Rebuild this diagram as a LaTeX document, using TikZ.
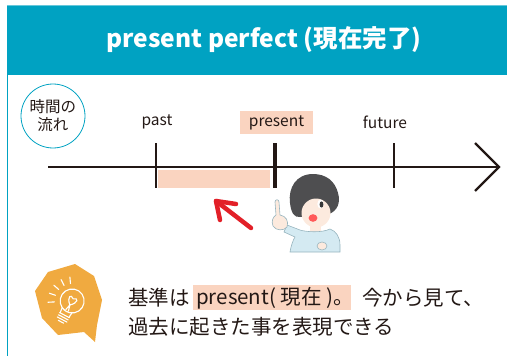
\documentclass[tikz,border=0pt]{standalone}
\usepackage{fontspec}
\setmainfont{Noto Sans CJK JP}
\definecolor{teal}{RGB}{0,162,194}
\definecolor{peach}{RGB}{250,212,192}
\definecolor{ink}{RGB}{35,24,21}
\definecolor{bulborange}{RGB}{240,170,64}
\definecolor{arrowred}{RGB}{226,32,40}
\definecolor{hair}{RGB}{78,78,80}
\definecolor{skin}{RGB}{252,234,222}
\definecolor{shirt}{RGB}{212,234,242}
\definecolor{outline}{RGB}{150,180,190}
\begin{document}
\begin{tikzpicture}[x=1pt,y=-1pt,
  label/.style={inner sep=0pt, text=ink, font=\fontsize{15.5}{18}\selectfont},
  body/.style={inner sep=0pt, text=ink, anchor=west, font=\fontsize{20.5}{24}\selectfont},
  axis/.style={draw=ink, line width=2.2pt},
  tick/.style={draw=ink, line width=2pt},
  bulbline/.style={draw=white, line width=1.1pt, line cap=round, line join=round}]
\useasboundingbox (0,0) rectangle (507,356);

% frame: header band and left rule
\fill[teal] (7,5) rectangle (507,75);
\draw[teal!60, line width=0.6pt] (7,5.3) -- (507,5.3);
\draw[teal, line width=1.2pt] (7.6,75) -- (7.6,356);
\node[inner sep=0pt, text=white, font=\fontsize{24.5}{28}\selectfont\bfseries] (title) at (264,40) {present perfect (現在完了)};

% "flow of time" badge
\node[circle, draw=teal, line width=0.8pt, minimum size=64pt, inner sep=0pt, align=center,
      text=ink, font=\fontsize{15.5}{18}\selectfont] (flow) at (53,116) {時間の\\流れ};

% time labels
\node[label] (past) at (157,122) {past};
\node[label, fill=peach, minimum width=73pt, minimum height=23pt] (present) at (276.5,122.5) {present};
\node[label] (future) at (385,122) {future};

% period bar from past up to present
\fill[peach] (158,170) rectangle (270,188);

% time axis with open arrow head
\coordinate (axStart) at (48,167);
\coordinate (axEnd) at (499,167);
\draw[axis] (axStart) -- (axEnd);
\draw[axis, line join=miter] (axEnd) ++(-24,-24) -- (axEnd) -- ++(-24,24);

% ticks
\coordinate (tPast) at (155.5,143);
\coordinate (tPresent) at (274.5,143);
\coordinate (tFuture) at (394,143);
\draw[tick] (tPast) -- ++(0,45);
\draw[tick, line width=4pt] (tPresent) -- ++(0,45);
\draw[tick] (tFuture) -- ++(0,45);

% red arrow pointing back to the past
\coordinate (redTail) at (251,228);
\coordinate (redTip) at (216,201);
\draw[arrowred, line width=4.5pt, line cap=round] (redTail) -- (redTip);
\draw[arrowred, line width=4.5pt, line cap=round, line join=round]
  (redTip) ++(20,3) -- (redTip) -- ++(4,19);

% girl pointing up
\fill[hair] (313,174) .. controls (296,174) and (288,188) .. (290,203)
  .. controls (291,212) and (294,218) .. (300,217) -- (329,214)
  .. controls (337,211) and (341,203) .. (338,193)
  .. controls (335,181) and (326,174) .. (313,174) -- cycle;
\fill[skin] (316,213) ellipse (14.5 and 14.5);
\fill[hair] (300,213) .. controls (300,202) and (306,193) .. (317,192)
  .. controls (324,192) and (330,194) .. (333,199) -- (334,186) -- (300,186) -- cycle;
\fill[white] (320.5,204) ellipse (3.2 and 4.4);
\fill[hair!70!black] (321.5,204.5) ellipse (1.9 and 3.1);
\fill[red!65!white] (313,218) ellipse (4.4 and 3.8);
\fill[skin] (310,226) rectangle (321,233);
\filldraw[fill=shirt, draw=outline, line width=0.6pt]
  (300,230) .. controls (306,232) and (322,233) .. (330,229)
  .. controls (336,231) and (340,237) .. (340,245) -- (340,252) -- (290,252)
  .. controls (291,246) and (293,240) .. (295,237)
  -- (284,232) -- (287,225) -- (300,230) -- cycle;
\filldraw[fill=skin, draw=outline, line width=0.6pt]
  (275,202) .. controls (275,199) and (279,199) .. (279,202) -- (280,215)
  .. controls (286,216) and (289,221) .. (287,227)
  .. controls (284,231) and (276,231) .. (273,226)
  .. controls (271,221) and (273,217) .. (276,215) -- cycle;
\filldraw[fill=skin, draw=outline, line width=0.6pt] (322,246) ellipse (5 and 4);

% light-bulb badge
\fill[bulborange] (48,272) -- (75,264) -- (94,276) -- (102,300) -- (97,325)
  -- (95,342) -- (84,332) -- (58,335) -- (42,318) -- (35,291) -- cycle;
\begin{scope}[shift={(72,301)}, rotate=-28]
  \draw[bulbline] (-5.5,10.5) arc[start angle=118, end angle=-298, radius=12] ;
  \draw[bulbline] (-5.5,10.5) -- (-5,16) (5.5,10.5) -- (5,16);
  \draw[bulbline] (-5.5,16) -- (5.5,16) (-5.5,18.5) -- (5.5,18.5) (-5.5,21) -- (5.5,21);
  \draw[bulbline] (-3,23.5) -- (3,23.5);
  \draw[bulbline] (0,4.5) .. controls (-6.5,-1) and (-4.5,-6.5) .. (0,-2.5)
    .. controls (4.5,-6.5) and (6.5,-1) .. (0,4.5);
  \draw[bulbline] (0,4.5) -- (-1.5,10.5) (0,4.5) -- (1.5,10.5);
\end{scope}
\foreach \a in {-95,-117,-139,-161,-183}
  \draw[bulbline] (72,301) ++(\a:17.5) -- ++(\a:6.5);

% explanation text
\fill[peach] (193,285) rectangle (351,310);
\node[body] (l1a) at (128,298) {基準は};
\node[body] (l1b) at (196,298) {present( 現在 )。};
\node[body] (l1c) at (362,298) {今から見て、};
\node[body] (l2) at (128,327) {過去に起きた事を表現できる};
\end{tikzpicture}
\end{document}
